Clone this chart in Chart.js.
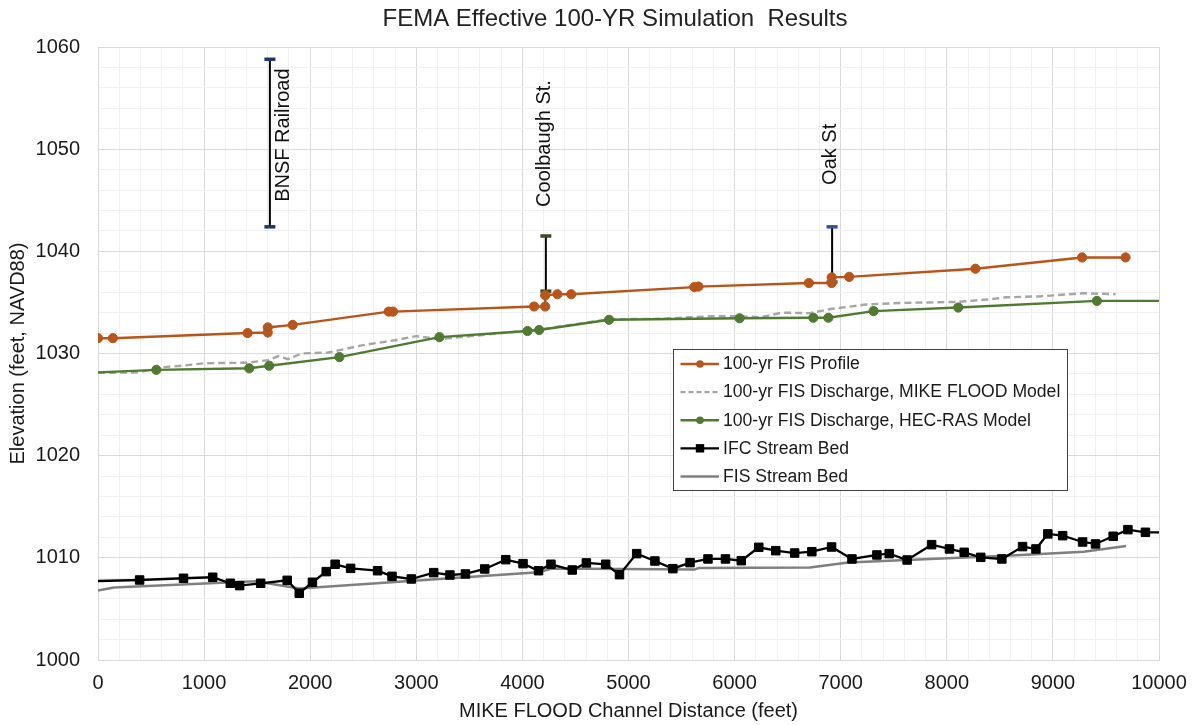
<!DOCTYPE html>
<html>
<head>
<meta charset="utf-8">
<script src="https://cdn.jsdelivr.net/npm/chart.js@4.4.1/dist/chart.umd.min.js"></script>
<style>
html,body{margin:0;padding:0;background:#fff;}
#wrap{width:1194px;height:725px;position:relative;}
</style>
</head>
<body>
<div id="wrap"><canvas id="c" width="1194" height="725"></canvas></div>
<script>
// ---------------- DATA ----------------
const chartTitle = 'FEMA Effective 100-YR Simulation  Results';
const xTitle = 'MIKE FLOOD Channel Distance (feet)';
const yTitle = 'Elevation (feet, NAVD88)';
const seriesNames = ['100-yr FIS Profile', '100-yr FIS Discharge, MIKE FLOOD Model', '100-yr FIS Discharge, HEC-RAS Model', 'IFC Stream Bed', 'FIS Stream Bed'];

const profileX = [0, 140, 1410, 1600, 1600, 1835, 2740, 2780, 4110, 4215, 4215, 4330, 4460, 5620, 5660, 6700, 6915, 6915, 7080, 8270, 9275, 9685];
const profileY = [1031.5, 1031.5, 1032.0, 1032.05, 1032.55, 1032.8, 1034.1, 1034.1, 1034.6, 1034.6, 1035.7, 1035.8, 1035.8, 1036.5, 1036.55, 1036.9, 1036.9, 1037.45, 1037.5, 1038.3, 1039.4, 1039.4];

const mikeX = [0, 380, 600, 790, 1010, 1415, 1605, 1700, 1790, 1920, 2170, 2265, 2485, 2800, 3000, 3220, 4050, 4160, 4820, 5320, 5585, 5780, 6050, 6245, 6445, 6710, 6905, 7240, 7570, 8100, 8400, 8560, 8890, 9290, 9590];
const mikeY = [1028.1, 1028.15, 1028.65, 1028.8, 1029.05, 1029.1, 1029.35, 1029.75, 1029.45, 1030.0, 1030.1, 1030.3, 1030.8, 1031.3, 1031.7, 1031.4, 1032.25, 1032.35, 1033.35, 1033.4, 1033.55, 1033.65, 1033.65, 1033.55, 1034.0, 1033.95, 1034.35, 1034.8, 1034.95, 1035.05, 1035.3, 1035.5, 1035.6, 1035.9, 1035.8];

const hecX = [0, 550, 1425, 1614, 2275, 3218, 4048, 4158, 4817, 6047, 6742, 6884, 7310, 8108, 9415, 10000];
const hecY = [1028.15, 1028.4, 1028.55, 1028.8, 1029.65, 1031.6, 1032.2, 1032.3, 1033.3, 1033.45, 1033.5, 1033.5, 1034.15, 1034.5, 1035.15, 1035.15];

const ifcX = [0, 392, 806, 1081, 1247, 1335, 1533, 1783, 1897, 2021, 2151, 2235, 2381, 2635, 2771, 2953, 3164, 3317, 3463, 3645, 3843, 4006, 4152, 4269, 4470, 4603, 4785, 4915, 5077, 5249, 5418, 5580, 5749, 5914, 6063, 6228, 6388, 6566, 6728, 6914, 7106, 7341, 7457, 7626, 7857, 8025, 8164, 8320, 8519, 8714, 8840, 8952, 9092, 9280, 9402, 9568, 9707, 9872, 10000];
const ifcY = [1007.73, 1007.83, 1008.0, 1008.1, 1007.51, 1007.28, 1007.51, 1007.8, 1006.53, 1007.61, 1008.65, 1009.37, 1008.97, 1008.74, 1008.19, 1007.93, 1008.55, 1008.32, 1008.42, 1008.91, 1009.82, 1009.43, 1008.74, 1009.37, 1008.81, 1009.5, 1009.37, 1008.35, 1010.41, 1009.69, 1008.94, 1009.53, 1009.89, 1009.89, 1009.72, 1011.03, 1010.7, 1010.47, 1010.6, 1011.06, 1009.89, 1010.28, 1010.41, 1009.79, 1011.29, 1010.87, 1010.54, 1010.05, 1009.89, 1011.1, 1010.87, 1012.34, 1012.17, 1011.55, 1011.36, 1012.11, 1012.76, 1012.5, 1012.5];

const fisX = [0, 150, 1480, 1900, 4150, 4280, 5620, 5660, 6710, 7070, 8560, 9290, 9690];
const fisY = [1006.8, 1007.1, 1007.7, 1007.0, 1008.6, 1008.95, 1008.85, 1009.0, 1009.05, 1009.55, 1010.2, 1010.6, 1011.15];

const bridgeNames = ['BNSF Railroad', 'Coolbaugh St.', 'Oak St'];
const bridgeX = [1620, 4221, 6919];
const bridgeLow = [1042.4, 1036.1, 1037.0];
const bridgeHigh = [1058.8, 1041.5, 1042.4];
const bridgeLabelX = [1745, 4205, 6903];
const bridgeLabelBase = [1044.85, 1044.35, 1046.5];

const xTickStep = 200, xLabelStep = 1000;
const yTickStep = 2, yLabelStep = 10;

// ---------------- BUILD ----------------
const FONT = '"Liberation Sans", Arial, Helvetica, sans-serif';
const zip = (xs, ys) => xs.map((x, i) => ({x, y: ys[i]}));
const endsHidden = (n, r) => Array.from({length: n}, (_, i) => (i === 0 || i === n - 1) ? 0 : r);

const C_PROFILE = '#B8551A', C_MIKE = '#A6A6A6', C_HEC = '#4E7A31', C_IFC = '#000000', C_FIS = '#7F7F7F';
const capColors = ['#1F3864', '#3B4A22', '#2F5597'];

const datasets = [
  {label: seriesNames[0], data: zip(profileX, profileY), borderColor: C_PROFILE, backgroundColor: C_PROFILE,
   borderWidth: 2.4, pointStyle: 'circle', pointRadius: 4.6, pointBorderWidth: 1, pointBorderColor: C_PROFILE, pointBackgroundColor: C_PROFILE, order: 1, legendMarker: 'circle'},
  {label: seriesNames[1], data: zip(mikeX, mikeY), borderColor: C_MIKE, backgroundColor: C_MIKE,
   borderWidth: 2.4, borderDash: [7, 4], pointRadius: 0, order: 4},
  {label: seriesNames[2], data: zip(hecX, hecY), borderColor: C_HEC, backgroundColor: C_HEC,
   borderWidth: 2.4, pointStyle: 'circle', pointRadius: endsHidden(hecX.length, 4.6), pointBorderWidth: 1, pointBorderColor: C_HEC, pointBackgroundColor: C_HEC, order: 3, legendMarker: 'circle'},
  {label: seriesNames[3], data: zip(ifcX, ifcY), borderColor: C_IFC, backgroundColor: C_IFC,
   borderWidth: 2.3, pointStyle: 'rect', pointRadius: endsHidden(ifcX.length, 6), pointBorderWidth: 1, pointBorderColor: C_IFC, pointBackgroundColor: C_IFC, order: 2, legendMarker: 'rect'},
  {label: seriesNames[4], data: zip(fisX, fisY), borderColor: C_FIS, backgroundColor: C_FIS,
   borderWidth: 2.5, pointRadius: 0, order: 5}
];
bridgeNames.forEach((name, i) => {
  datasets.push({
    label: name, data: [{x: bridgeX[i], y: bridgeLow[i]}, {x: bridgeX[i], y: bridgeHigh[i]}],
    borderColor: '#000', borderWidth: 2, pointStyle: 'line', pointRadius: 5.5, pointBorderWidth: 3.5,
    pointBorderColor: capColors[i], pointBackgroundColor: capColors[i], order: 6, isBridge: true
  });
});

const titlePlugin = {
  id: 'customTitle',
  afterDraw(chart) {
    const ctx = chart.ctx;
    ctx.save();
    ctx.font = '24px ' + FONT;
    ctx.fillStyle = '#222';
    ctx.textAlign = 'center';
    ctx.textBaseline = 'middle';
    ctx.fillText(chartTitle, 615, 19);
    ctx.restore();
  }
};

const bridgeLabelPlugin = {
  id: 'bridgeLabels',
  afterDatasetsDraw(chart) {
    const {ctx, scales} = chart;
    ctx.save();
    ctx.font = '20px ' + FONT;
    ctx.fillStyle = '#111';
    ctx.textAlign = 'left';
    ctx.textBaseline = 'middle';
    bridgeNames.forEach((name, i) => {
      const px = scales.x.getPixelForValue(bridgeLabelX[i]);
      const py = scales.y.getPixelForValue(bridgeLabelBase[i]);
      ctx.save();
      ctx.translate(px, py);
      ctx.rotate(-Math.PI / 2);
      ctx.fillText(name, 0, 0);
      ctx.restore();
    });
    ctx.restore();
  }
};

const legendPlugin = {
  id: 'boxLegend',
  afterDraw(chart) {
    const {ctx, chartArea: a} = chart;
    const L = Math.round(a.left + 575), T = Math.round(a.top + 302), W = 394, H = 141;
    ctx.save();
    ctx.fillStyle = '#fff';
    ctx.fillRect(L, T, W, H);
    ctx.strokeStyle = '#404040';
    ctx.lineWidth = 1;
    ctx.strokeRect(L + 0.5, T + 0.5, W, H);
    ctx.font = '17.6px ' + FONT;
    ctx.textBaseline = 'middle';
    ctx.textAlign = 'left';
    for (let i = 0; i < 5; i++) {
      const ds = chart.data.datasets[i];
      const y = T + 15 + i * 28.1;
      ctx.beginPath();
      ctx.setLineDash(ds.borderDash ? [5, 3] : []);
      ctx.strokeStyle = ds.borderColor;
      ctx.lineWidth = ds.borderWidth;
      ctx.moveTo(L + 7.5, y);
      ctx.lineTo(L + 46, y);
      ctx.stroke();
      ctx.setLineDash([]);
      const mx = L + 27;
      if (ds.legendMarker === 'circle') {
        ctx.beginPath();
        ctx.fillStyle = ds.borderColor;
        ctx.arc(mx, y, 3.8, 0, Math.PI * 2);
        ctx.fill();
      } else if (ds.legendMarker === 'rect') {
        ctx.fillStyle = ds.borderColor;
        ctx.fillRect(mx - 4.2, y - 4.2, 8.4, 8.4);
      }
      ctx.fillStyle = '#1a1a1a';
      ctx.fillText(seriesNames[i], L + 50, y + 0.5);
    }
    ctx.restore();
  }
};

const gridColor = (major) => (ctx) => {
  const v = ctx.tick && ctx.tick.value;
  return (Math.abs(v % major) < 1e-6) ? '#D9D9D9' : '#F0F0F0';
};

new Chart(document.getElementById('c'), {
  type: 'line',
  data: {datasets},
  plugins: [titlePlugin, bridgeLabelPlugin, legendPlugin],
  options: {
    responsive: false,
    animation: false,
    devicePixelRatio: 1,
    events: [],
    layout: {padding: {top: 47, right: 35, left: 0, bottom: 0}},
    plugins: {legend: {display: false}, title: {display: false}, tooltip: {enabled: false}},
    elements: {line: {tension: 0}},
    scales: {
      x: {
        type: 'linear', min: 0, max: 10000,
        afterBuildTicks(scale) {
          const t = [];
          for (let v = 0; v <= 10000; v += xTickStep) t.push({value: v});
          scale.ticks = t;
        },
        afterFit(scale) { scale.height = 65; scale.paddingRight = 0; scale.paddingLeft = 0; },
        ticks: {
          autoSkip: false, maxRotation: 0, padding: 11, color: '#1a1a1a',
          font: {family: FONT, size: 20},
          callback: (v) => (v % xLabelStep === 0 ? String(v) : '')
        },
        grid: {color: gridColor(xLabelStep), lineWidth: 1, drawTicks: false},
        border: {color: '#D9D9D9', width: 1},
        title: {display: true, text: xTitle, color: '#1a1a1a', font: {family: FONT, size: 20}, padding: {top: 0, bottom: 2}}
      },
      y: {
        type: 'linear', min: 1000, max: 1060,
        afterBuildTicks(scale) {
          const t = [];
          for (let v = 1000; v <= 1060; v += yTickStep) t.push({value: v});
          scale.ticks = t;
        },
        afterFit(scale) { scale.width = 98; },
        ticks: {
          autoSkip: false, padding: 18, color: '#1a1a1a',
          font: {family: FONT, size: 20},
          callback: (v) => (v % yLabelStep === 0 ? String(v) : '')
        },
        grid: {color: gridColor(yLabelStep), lineWidth: 1, drawTicks: false},
        border: {color: '#D9D9D9', width: 1},
        title: {display: true, text: yTitle, color: '#1a1a1a', font: {family: FONT, size: 20}, padding: {top: 6, bottom: 0}}
      }
    }
  }
});
</script>
</body>
</html>
